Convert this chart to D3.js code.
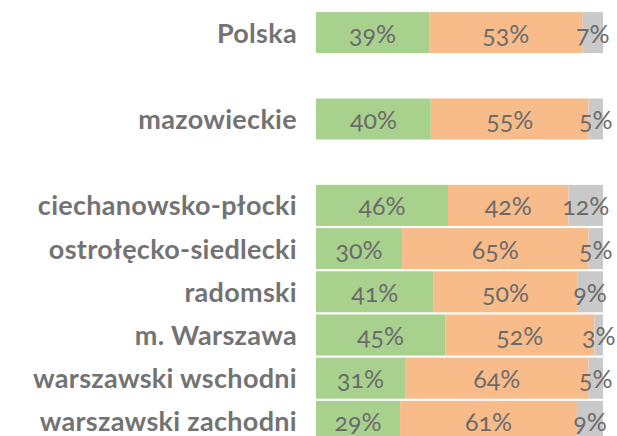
<!DOCTYPE html>
<meta charset="utf-8">
<style>
  body { margin: 0; background: #fff; }
  .label { font: bold 27px Lato, sans-serif; fill: #737373; text-anchor: end; letter-spacing: 0.3px; }
  .val { font: 25px Lato, sans-serif; fill: #6b6b6b; text-anchor: middle; font-variant-numeric: oldstyle-nums; }
</style>
<svg width="617" height="436"></svg>
<script src="https://cdn.jsdelivr.net/npm/d3@7"></script>
<script>

// rows, in drawing order; the gap keys are the empty rows between groups
var categories = ["Polska", "gap1", "mazowieckie", "gap2",
  "ciechanowsko-płocki", "ostrołęcko-siedlecki", "radomski",
  "m. Warszawa", "warszawski wschodni", "warszawski zachodni"];

var green  = [39, null, 40, null, 46, 30, 41, 45, 31, 29];
var orange = [53, null, 55, null, 42, 65, 50, 52, 64, 61];
var grey   = [7,  null, 5,  null, 12, 5,  9,  3,  5,  9];

var colors = ["#a9d18e", "#f8bc8b", "#c9c9c9"];

var svg = d3.select("svg");

var y = d3.scaleBand()
    .domain(categories)
    .range([11, 443])
    .paddingInner(0.05)
    .paddingOuter(0.025);

var x = d3.scaleLinear().domain([0, 1]).range([316, 603]);

var rows = categories.map(function(c, i) {
  if (green[i] == null) return null;
  var vals = [green[i], orange[i], grey[i]];
  var total = d3.sum(vals), acc = 0;
  return {
    name: c,
    segs: vals.map(function(v, j) {
      var s = { v: v, x0: acc / total, x1: (acc + v) / total, c: colors[j] };
      acc += v;
      return s;
    })
  };
}).filter(function(d) { return d; });

var row = svg.selectAll(".row")
  .data(rows)
  .enter().append("g")
    .attr("class", "row")
    .attr("transform", function(d) { return "translate(0," + y(d.name) + ")"; });

row.append("text")
    .attr("class", "label")
    .attr("x", 297)
    .attr("y", y.bandwidth() / 2)
    .attr("dy", 10)
    .text(function(d) { return d.name; });

var seg = row.selectAll(".seg")
  .data(function(d) { return d.segs; })
  .enter().append("g").attr("class", "seg");

seg.append("rect")
    .attr("x", function(d) { return x(d.x0); })
    .attr("width", function(d) { return x(d.x1) - x(d.x0); })
    .attr("height", y.bandwidth())
    .attr("fill", function(d) { return d.c; });

seg.append("text")
    .attr("class", "val")
    .attr("x", function(d) { return (x(d.x0) + x(d.x1)) / 2; })
    .attr("y", y.bandwidth() / 2)
    .attr("dy", 10)
    .text(function(d) { return d.v + "%"; });

</script>
